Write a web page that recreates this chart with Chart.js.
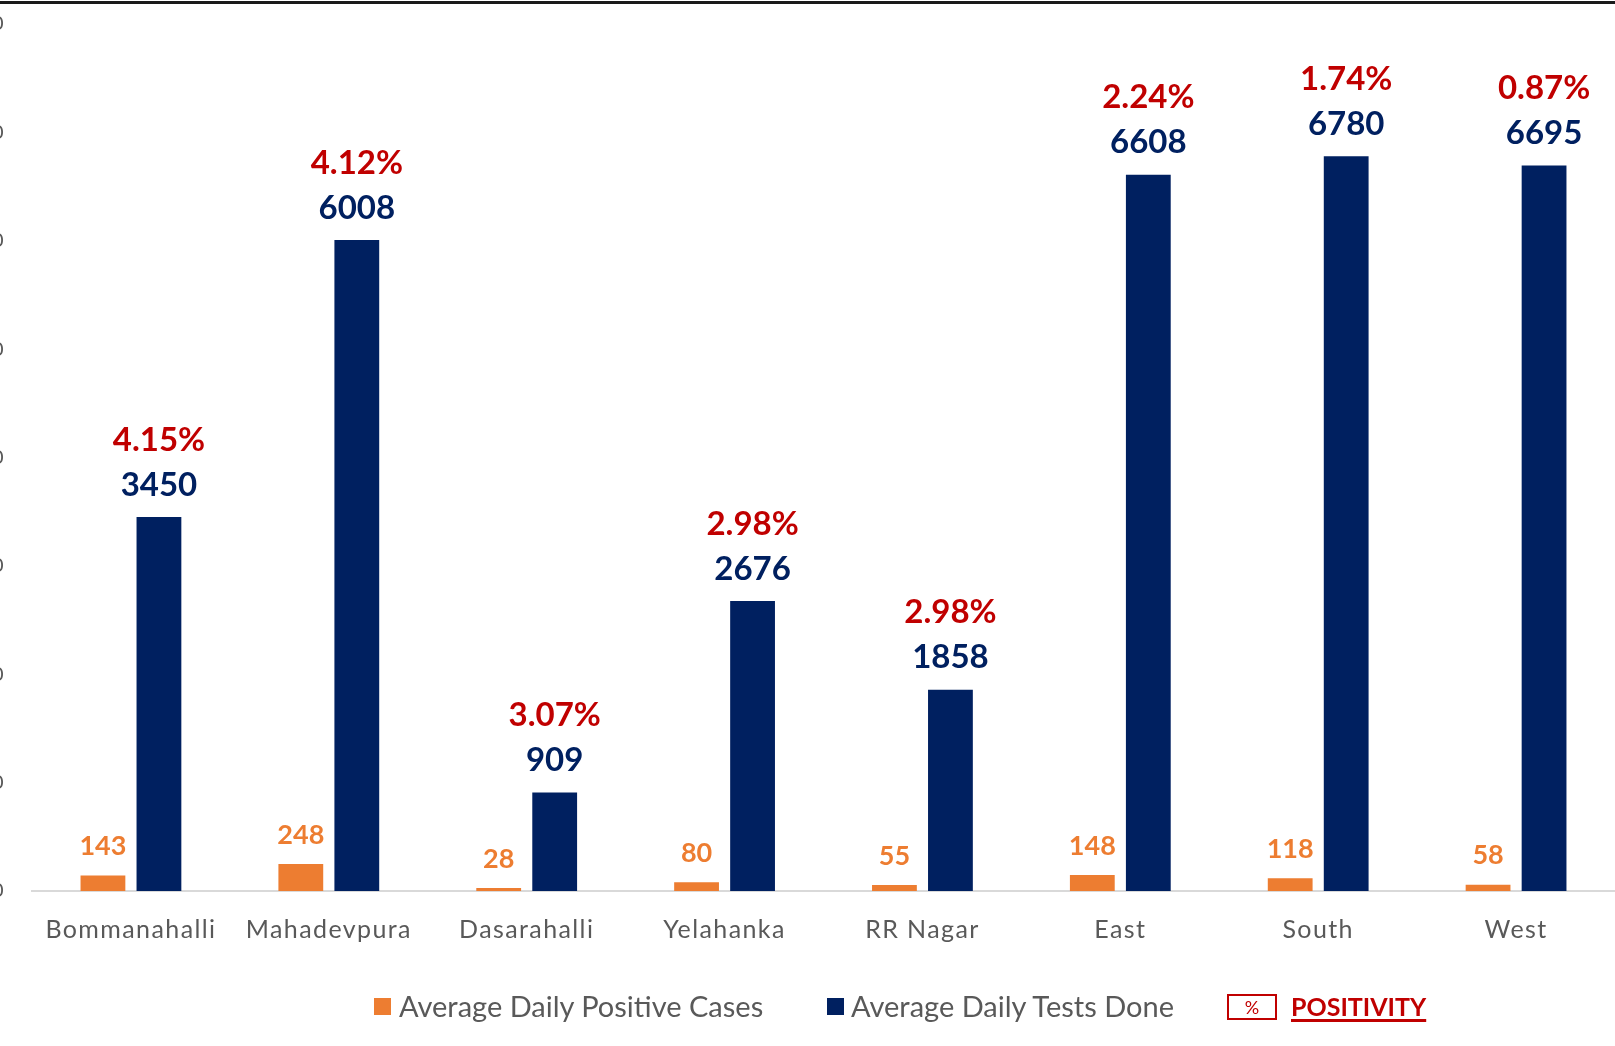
<!DOCTYPE html>
<html>
<head>
<meta charset="utf-8">
<script src="https://cdn.jsdelivr.net/npm/chart.js@4/dist/chart.umd.min.js"></script>
<style>
  html, body { margin: 0; padding: 0; background: #ffffff; }
  body { width: 1615px; height: 1046px; position: relative; overflow: hidden; font-family: Lato, "Open Sans", sans-serif; }
  #topline { position: absolute; left: 0; top: 1px; width: 1615px; height: 3px; background: #1a1a1a; }
  #wrap { position: absolute; left: 0; top: 0; width: 1615px; height: 1046px; }
  .lg { position: absolute; color: #595959; font-size: 29px; line-height: 32px; white-space: nowrap; }
  .sw { position: absolute; width: 17px; height: 17px; }
  #pbox { position: absolute; left: 1227px; top: 994px; width: 46px; height: 22px; border: 2px solid #c00000; color: #c00000; font-size: 18px; line-height: 22px; text-align: center; }
  #ptxt { position: absolute; left: 1291px; top: 991px; color: #c00000; font-size: 25px; line-height: 30px; font-weight: bold; text-decoration: underline; text-decoration-thickness: 3px; text-underline-offset: 3px; }
</style>
</head>
<body>
<div id="wrap"><canvas id="c" width="1615" height="1046"></canvas></div>
<div id="topline"></div>
<div class="sw" style="left:374px; top:998px; background:#ED7D31;"></div>
<div class="lg" style="left:399px; top:990px;">Average Daily Positive Cases</div>
<div class="sw" style="left:827px; top:998px; background:#002060;"></div>
<div class="lg" style="left:851px; top:990px;">Average Daily Tests Done</div>
<div id="pbox">%</div>
<div id="ptxt">POSITIVITY</div>
<script>
const categories = ["Bommanahalli", "Mahadevpura", "Dasarahalli", "Yelahanka", "RR Nagar", "East", "South", "West"];
const positiveCases = [143, 248, 28, 80, 55, 148, 118, 58];
const testsDone = [3450, 6008, 909, 2676, 1858, 6608, 6780, 6695];
const positivity = ["4.15%", "4.12%", "3.07%", "2.98%", "2.98%", "2.24%", "1.74%", "0.87%"];
const yTicks = [0, 1000, 2000, 3000, 4000, 5000, 6000, 7000, 8000];

const ORANGE = "#ED7D31";
const NAVY = "#002060";
const RED = "#C00000";

const spacingPlugin = {
  id: "spacing",
  beforeDraw(chart) { chart.ctx.letterSpacing = "1.4px"; },
  beforeDatasetsDraw(chart) { chart.ctx.letterSpacing = "0px"; }
};

const labelPlugin = {
  id: "barLabels",
  afterDatasetsDraw(chart) {
    const ctx = chart.ctx;
    ctx.save();
    ctx.letterSpacing = "0px";
    ctx.textAlign = "center";
    ctx.textBaseline = "middle";
    const m0 = chart.getDatasetMeta(0);
    const m1 = chart.getDatasetMeta(1);
    m0.data.forEach((bar, i) => {
      ctx.font = "bold 27px Lato";
      ctx.fillStyle = ORANGE;
      ctx.fillText(String(positiveCases[i]), bar.x, bar.y - 29);
    });
    m1.data.forEach((bar, i) => {
      ctx.font = "bold 33px Lato";
      ctx.fillStyle = NAVY;
      ctx.fillText(String(testsDone[i]), bar.x, bar.y - 32);
      ctx.fillStyle = RED;
      ctx.fillText(positivity[i], bar.x, bar.y - 77);
    });
    ctx.restore();
  }
};

new Chart(document.getElementById("c"), {
  type: "bar",
  data: {
    labels: categories,
    datasets: [
      { label: "Average Daily Positive Cases", data: positiveCases, backgroundColor: ORANGE,
        categoryPercentage: 0.566, barPercentage: 0.80 },
      { label: "Average Daily Tests Done", data: testsDone, backgroundColor: NAVY,
        categoryPercentage: 0.566, barPercentage: 0.80 }
    ]
  },
  options: {
    responsive: false,
    animation: false,
    devicePixelRatio: 1,
    layout: { autoPadding: false, padding: { top: 24, bottom: 75, left: 0, right: 0 } },
    plugins: { legend: { display: false }, tooltip: { enabled: false } },
    scales: {
      x: {
        grid: { display: false, drawTicks: false },
        border: { display: true, color: "#D9D9D9", width: 2 },
        ticks: { color: "#595959", font: { family: "Lato", size: 25 }, padding: 24, maxRotation: 0, autoSkip: false },
        afterFit(scale) { scale.height = 80; }
      },
      y: {
        min: 0, max: 8000,
        afterBuildTicks(scale) { scale.ticks = yTicks.map(v => ({ value: v })); },
        grid: { display: false, drawTicks: false },
        border: { display: false },
        ticks: { color: "#595959", font: { family: "Lato", size: 20 }, padding: 27 },
        afterFit(scale) { scale.width = 32; scale.paddingTop = 0; scale.paddingBottom = 0; }
      }
    }
  },
  plugins: [spacingPlugin, labelPlugin]
});
</script>
</body>
</html>
